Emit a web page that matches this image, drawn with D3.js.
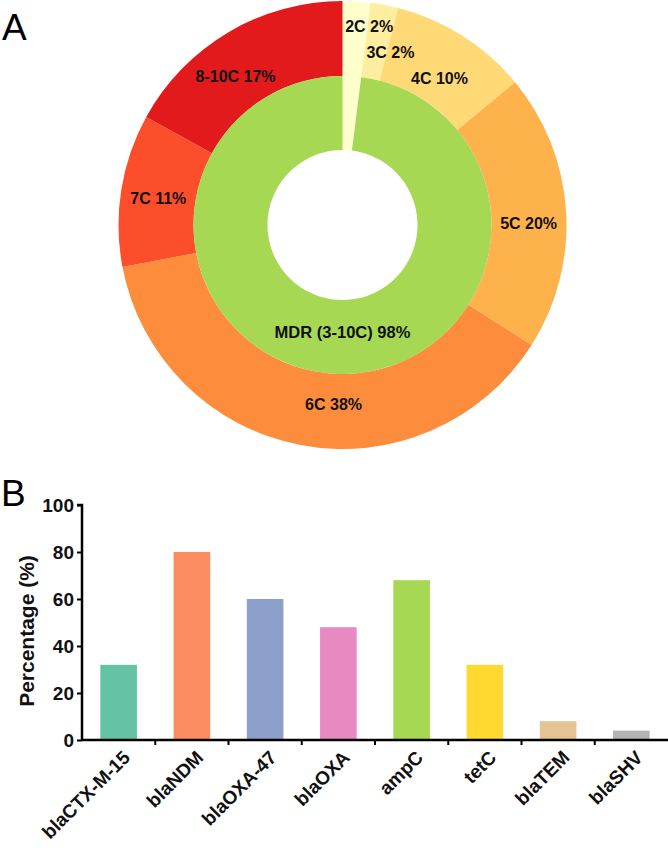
<!DOCTYPE html>
<html>
<head>
<meta charset="utf-8">
<script src="https://cdn.jsdelivr.net/npm/d3@7"></script>
<style>
  html, body { margin: 0; padding: 0; background: #fff; }
  svg { display: block; }
  text { font-family: "Liberation Sans", Arial, sans-serif; }
</style>
</head>
<body>
<svg id="chart" width="668" height="848"></svg>
<script>
// ---------- Data ----------
// Panel A: outer ring (number of antibiotic classes resisted)
const classLabels = ["2C", "3C", "4C", "5C", "6C", "7C", "8-10C"];
const classPercents = [2, 2, 10, 20, 38, 11, 17];
const classColors = ["#ffffcc", "#ffeda0", "#fed976", "#feb24c", "#fd8d3c", "#fc4e2a", "#e31a1c"];

// Panel A: inner ring
const innerLabels = ["", "MDR (3-10C)"];
const innerPercents = [2, 98];
const innerColors = ["#ffffcc", "#a6d854"];

// Panel B: resistance genes
const genes = ["blaCTX-M-15", "blaNDM", "blaOXA-47", "blaOXA", "ampC", "tetC", "blaTEM", "blaSHV"];
const genePercents = [32, 80, 60, 48, 68, 32, 8, 4];
const geneColors = ["#66c2a5", "#fc8d62", "#8da0cb", "#e78ac3", "#a6d854", "#ffd92f", "#e5c494", "#b3b3b3"];
const yTicks = [0, 20, 40, 60, 80, 100];

// ---------- Layout (not data) ----------
const donut = { cx: 342.5, cy: 225, r0: 75, r1: 149, r2: 224 };
// small label nudges relative to arc centroids
const outerLabelNudge = [[15, -13], [13, 10], [-3, 11], [0, 10], [26, -4], [0, 2], [-12, 12]];
const innerLabelNudge = [[0, 0], [7, -5]];

const svg = d3.select("#chart");
const textColor = "#111";

// ---------- Panel A ----------
svg.append("text").attr("x", 2).attr("y", 40)
  .attr("font-size", 37).attr("fill", "#000").text("A");

const gA = svg.append("g").attr("transform", `translate(${donut.cx},${donut.cy})`);
const pie = d3.pie().sort(null).value(d => d);

const outerArc = d3.arc().innerRadius(donut.r1).outerRadius(donut.r2);
const outerLabelArc = d3.arc().innerRadius((donut.r1 + donut.r2) / 2).outerRadius((donut.r1 + donut.r2) / 2);
const innerArc = d3.arc().innerRadius(donut.r0).outerRadius(donut.r1);
const innerLabelArc = d3.arc().innerRadius((donut.r0 + donut.r1) / 2).outerRadius((donut.r0 + donut.r1) / 2);

const outerPie = pie(classPercents);
const innerPie = pie(innerPercents);

gA.selectAll("path.outer").data(outerPie).join("path")
  .attr("class", "outer").attr("d", outerArc)
  .attr("fill", (d, i) => classColors[i]);

gA.selectAll("path.inner").data(innerPie).join("path")
  .attr("class", "inner").attr("d", innerArc)
  .attr("fill", (d, i) => innerColors[i]);

gA.selectAll("text.outerLbl").data(outerPie).join("text")
  .attr("class", "outerLbl")
  .attr("transform", (d, i) => {
    const c = outerLabelArc.centroid(d);
    return `translate(${c[0] + outerLabelNudge[i][0]},${c[1] + outerLabelNudge[i][1]})`;
  })
  .attr("text-anchor", "middle").attr("dy", "0.36em")
  .attr("font-size", 16).attr("font-weight", "bold").attr("fill", textColor)
  .text((d, i) => `${classLabels[i]} ${classPercents[i]}%`);

gA.selectAll("text.innerLbl").data(innerPie.filter((d, i) => innerLabels[i] !== "")).join("text")
  .attr("class", "innerLbl")
  .attr("transform", d => {
    const c = innerLabelArc.centroid(d);
    const n = innerLabelNudge[d.index];
    return `translate(${c[0] + n[0]},${c[1] + n[1]})`;
  })
  .attr("text-anchor", "middle").attr("dy", "0.36em")
  .attr("font-size", 16.5).attr("font-weight", "bold").attr("fill", textColor)
  .text(d => `${innerLabels[d.index]} ${innerPercents[d.index]}%`);

// ---------- Panel B ----------
svg.append("text").attr("x", 1).attr("y", 506)
  .attr("font-size", 37).attr("fill", "#000").text("B");

const plot = { left: 82, right: 668, top: 505, bottom: 740 };
const x = d3.scaleBand().domain(genes).range([plot.left, plot.right])
  .paddingInner(0.5).paddingOuter(0.25);
const y = d3.scaleLinear().domain([0, 100]).range([plot.bottom, plot.top]);

const gB = svg.append("g");

gB.selectAll("rect.bar").data(genes).join("rect")
  .attr("class", "bar")
  .attr("x", d => x(d))
  .attr("width", x.bandwidth())
  .attr("y", (d, i) => y(genePercents[i]))
  .attr("height", (d, i) => y(0) - y(genePercents[i]))
  .attr("fill", (d, i) => geneColors[i]);

// Y axis
const yAxis = d3.axisLeft(y).tickValues(yTicks).tickSize(5).tickPadding(3);
const gy = gB.append("g").attr("transform", `translate(${plot.left},0)`).call(yAxis);
gy.select(".domain").attr("stroke", "#000").attr("stroke-width", 2.5)
  .attr("d", `M-5,${plot.top}H0V${plot.bottom}`);
gy.selectAll(".tick line").attr("stroke", "#000").attr("stroke-width", 2);
gy.selectAll(".tick text").attr("font-size", 19).attr("font-weight", "bold")
  .attr("fill", textColor).attr("font-family", "'Liberation Sans', Arial, sans-serif");

// X axis with ticks at category boundaries
const step = x.step();
const boundaries = d3.range(1, genes.length + 1).map(i => plot.left + i * step);
const gx = gB.append("g");
gx.append("line").attr("x1", plot.left).attr("x2", plot.right)
  .attr("y1", plot.bottom).attr("y2", plot.bottom)
  .attr("stroke", "#000").attr("stroke-width", 2.5);
gx.selectAll("line.xt").data(boundaries.slice(0, -1)).join("line")
  .attr("class", "xt")
  .attr("x1", d => d).attr("x2", d => d)
  .attr("y1", plot.bottom).attr("y2", plot.bottom + 5)
  .attr("stroke", "#000").attr("stroke-width", 2);

gx.selectAll("text.xl").data(genes).join("text")
  .attr("class", "xl")
  .attr("transform", d => `translate(${x(d) + x.bandwidth() / 2 + 3},${plot.bottom + 9}) rotate(-45)`)
  .attr("text-anchor", "end").attr("dy", "0.72em")
  .attr("font-size", 19).attr("font-weight", "bold").attr("fill", textColor)
  .text(d => d);

// Y title
svg.append("text")
  .attr("transform", `translate(34,631) rotate(-90)`)
  .attr("text-anchor", "middle")
  .attr("font-size", 21).attr("font-weight", "bold").attr("fill", textColor)
  .text("Percentage (%)");
</script>
</body>
</html>
